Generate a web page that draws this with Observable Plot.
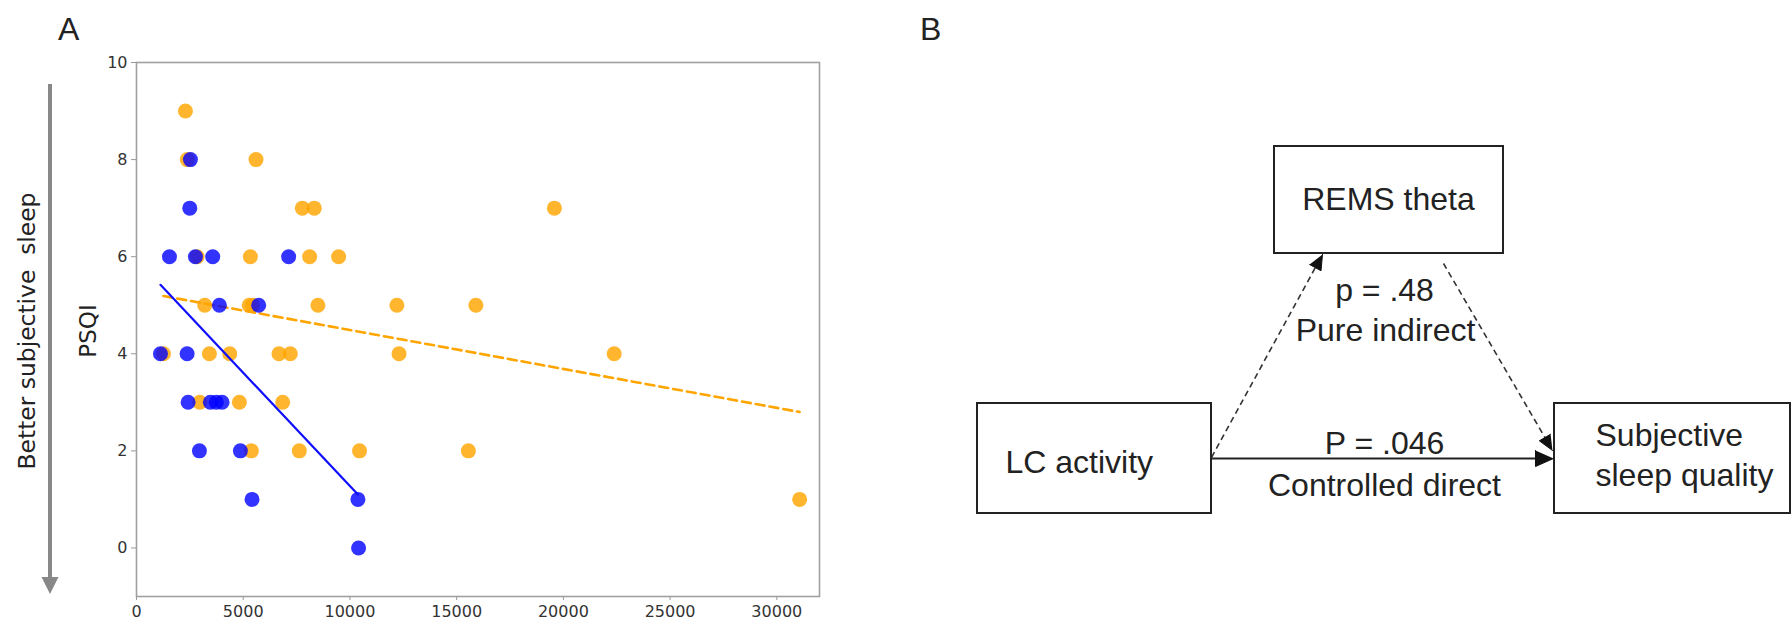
<!DOCTYPE html>
<html><head><meta charset="utf-8">
<script src="https://cdn.jsdelivr.net/npm/d3@7"></script>
<script src="https://cdn.jsdelivr.net/npm/@observablehq/plot@0.6"></script>
<style>
body{margin:0;background:#fff;}
#wrap{position:relative;width:1792px;height:624px;overflow:hidden;background:#fff;}
#wrap svg{position:absolute;top:0;}
</style></head><body><div id="wrap"></div>
<script>
// ---------- Panel A data ----------
const blueX = [2527, 2496, 1544, 2761, 3571, 7128, 3884, 5725, 1123, 2371, 2418, 3460, 3740, 4010, 2948, 4867, 5413, 10374, 10405];
const blueY = [8, 7, 6, 6, 6, 6, 5, 5, 4, 4, 3, 3, 3, 3, 2, 2, 1, 1, 0];
const orangeX = [2293, 2380, 5600, 7770, 8330, 19580, 2840, 5335, 8112, 9470, 3198, 5280, 5440, 8500, 12200, 15900, 1264, 3416, 4368, 6676, 7206, 12300, 22380, 2964, 4820, 6848, 5381, 7628, 10450, 15550, 31070];
const orangeY = [9, 8, 8, 7, 7, 7, 6, 6, 6, 6, 5, 5, 5, 5, 5, 5, 4, 4, 4, 4, 4, 4, 4, 3, 3, 3, 2, 2, 2, 2, 1];
const blueFitX = [1123, 10374];
const blueFitY = [5.42, 1.10];
const orangeFitX = [1264, 31070];
const orangeFitY = [5.19, 2.80];
const xTicks = [0, 5000, 10000, 15000, 20000, 25000, 30000];
const yTicks = [0, 2, 4, 6, 8, 10];
const panelLabels = ["A", "B"];
const yAxisLabel = "PSQI";
const sideLabel = "Better subjective  sleep";

// ---------- Panel B texts ----------
const nodeNames = ["LC activity", "REMS theta", "Subjective", "sleep quality"];
const edgePValues = ["p = .48", "P = .046"];
const edgeNames = ["Pure indirect", "Controlled direct"];

// ---------- Panel A ----------
const orange = orangeX.map((x, i) => ({x, y: orangeY[i]}));
const blue = blueX.map((x, i) => ({x, y: blueY[i]}));
const orangeFit = orangeFitX.map((x, i) => ({x, y: orangeFitY[i]}));
const blueFit = blueFitX.map((x, i) => ({x, y: blueFitY[i]}));

const plotA = Plot.plot({
  width: 830, height: 624,
  marginLeft: 136, marginRight: 11, marginTop: 62, marginBottom: 28,
  style: {fontFamily: "'DejaVu Sans', sans-serif", fontSize: "16px", background: "transparent", overflow: "visible"},
  x: {domain: [0, 32000]},
  y: {domain: [-1, 10]},
  marks: [
    Plot.frame({stroke: "#a0a0a0", strokeWidth: 1.6}),
    Plot.axisX({ticks: xTicks, tickFormat: d => String(d), tickSize: 4, tickPadding: 5, stroke: "#999", color: "#333", label: null, fontSize: 16}),
    Plot.axisY({ticks: yTicks, tickFormat: d => String(d), tickSize: 5, tickPadding: 4, stroke: "#999", color: "#333", label: null, fontSize: 16}),
    Plot.dot(orange, {x: "x", y: "y", r: 7.5, fill: "#ffa500", fillOpacity: 0.82}),
    Plot.line(orangeFit, {x: "x", y: "y", stroke: "#ffa500", strokeWidth: 2.6, strokeDasharray: "9,5"}),
    Plot.dot(blue, {x: "x", y: "y", r: 7.5, fill: "#0000ff", fillOpacity: 0.8}),
    Plot.line(blueFit, {x: "x", y: "y", stroke: "#1010ff", strokeWidth: 2.2})
  ]
});
plotA.style.left = "0px";
document.getElementById("wrap").appendChild(plotA);

// ---------- Panel B (diagram) ----------
const layout = {
  boxes: [
    {x1: 977, x2: 1211, y1: 403, y2: 513},
    {x1: 1274, x2: 1503, y1: 146, y2: 253},
    {x1: 1554, x2: 1790, y1: 403, y2: 513}
  ],
  nodeText: [
    {x: 1005, y: 472, anchor: "start"},
    {x: 1388, y: 209, anchor: "middle"},
    {x: 1595, y: 445, anchor: "start"},
    {x: 1595, y: 485, anchor: "start"}
  ],
  edgeText: [
    {x: 1384, y: 300}, {x: 1384, y: 453},
    {x: 1385, y: 340}, {x: 1384, y: 495}
  ],
  edges: [
    {x1: 1211, y1: 457, x2: 1322, y2: 254, dashed: true, len: 15, half: 6.5},
    {x1: 1443, y1: 263, x2: 1552, y2: 450, dashed: true, len: 15, half: 6.5},
    {x1: 1211, y1: 458, x2: 1553, y2: 458, dashed: false, len: 18, half: 8}
  ]
};
const boxes = layout.boxes;
const texts = [
  ...nodeNames.map((t, i) => ({text: t, ...layout.nodeText[i]})),
  ...edgePValues.map((t, i) => ({text: t, anchor: "middle", ...layout.edgeText[i]})),
  ...edgeNames.map((t, i) => ({text: t, anchor: "middle", ...layout.edgeText[i + 2]}))
];
const textsStart = texts.filter(d => d.anchor === "start");
const textsMiddle = texts.filter(d => d.anchor === "middle");
const dashed = layout.edges.filter(e => e.dashed);
const solid = layout.edges.filter(e => !e.dashed);
const heads = [];
layout.edges.forEach((e, k) => {
  const dx = e.x2 - e.x1, dy = e.y2 - e.y1, L = Math.hypot(dx, dy);
  const ux = dx / L, uy = dy / L;
  const bx = e.x2 - ux * e.len, by = e.y2 - uy * e.len;
  heads.push({id: k, x: e.x2, y: e.y2});
  heads.push({id: k, x: bx - uy * e.half, y: by + ux * e.half});
  heads.push({id: k, x: bx + uy * e.half, y: by - ux * e.half});
});
const shaftEnd = e => ({x1: e.x1, y1: e.y1,
  x2: e.x2 - (e.x2 - e.x1) / Math.hypot(e.x2 - e.x1, e.y2 - e.y1) * e.len * 0.6,
  y2: e.y2 - (e.y2 - e.y1) / Math.hypot(e.x2 - e.x1, e.y2 - e.y1) * e.len * 0.6});

const textStyle = {x: "x", y: "y", text: "text", lineAnchor: "bottom", fontSize: 32, fill: "#222"};
const plotB = Plot.plot({
  width: 912, height: 624, margin: 0,
  style: {fontFamily: "'Liberation Sans', Arial, sans-serif", background: "transparent", overflow: "visible"},
  x: {domain: [880, 1792], axis: null},
  y: {domain: [624, 0], axis: null},
  marks: [
    Plot.link(dashed.map(shaftEnd), {x1: "x1", y1: "y1", x2: "x2", y2: "y2", stroke: "#333", strokeWidth: 1.6, strokeDasharray: "6,4"}),
    Plot.link(solid.map(shaftEnd), {x1: "x1", y1: "y1", x2: "x2", y2: "y2", stroke: "#222", strokeWidth: 2}),
    Plot.rect(boxes, {x1: "x1", x2: "x2", y1: "y1", y2: "y2", fill: "white", stroke: "#222", strokeWidth: 2}),
    Plot.line(heads, {x: "x", y: "y", z: "id", fill: "#111", stroke: "#111", strokeWidth: 1}),
    Plot.text(textsStart, {...textStyle, textAnchor: "start"}),
    Plot.text(textsMiddle, {...textStyle, textAnchor: "middle"})
  ]
});
plotB.style.left = "880px";
document.getElementById("wrap").appendChild(plotB);

// ---------- annotations ----------
const ov = d3.select("#wrap").append("svg").attr("width", 1792).attr("height", 624).style("left", "0px");
ov.selectAll("text.panel").data(panelLabels).join("text")
  .attr("x", (d, i) => i ? 920 : 58).attr("y", 40)
  .attr("font-family", "'Liberation Sans', Arial, sans-serif").attr("font-size", 32).attr("fill", "#222")
  .text(d => d);
ov.append("line").attr("x1", 50).attr("x2", 50).attr("y1", 84).attr("y2", 580)
  .attr("stroke", "#888").attr("stroke-width", 4);
ov.append("path").attr("d", "M41.5,577 L58.5,577 L50,594 Z").attr("fill", "#888");
ov.append("text").attr("transform", "translate(35,331) rotate(-90)")
  .attr("text-anchor", "middle").style("white-space", "pre")
  .attr("font-family", "'DejaVu Sans', sans-serif").attr("font-size", 23.4).attr("fill", "#222")
  .text(sideLabel);
ov.append("text").attr("transform", "translate(96,331) rotate(-90)")
  .attr("text-anchor", "middle")
  .attr("font-family", "'DejaVu Sans', sans-serif").attr("font-size", 23).attr("fill", "#222")
  .text(yAxisLabel);
</script></body></html>
